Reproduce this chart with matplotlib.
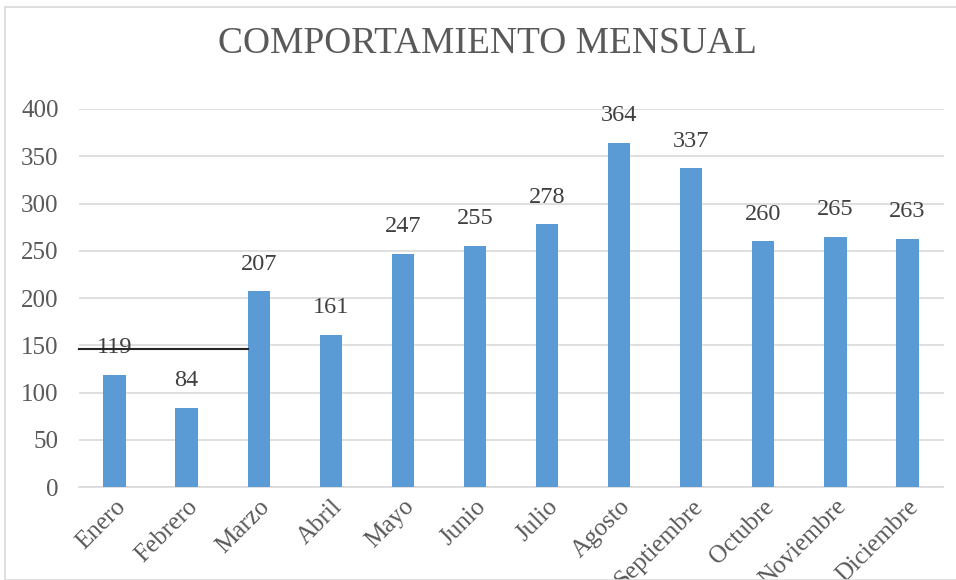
import matplotlib
matplotlib.use("Agg")
import matplotlib.pyplot as plt
from matplotlib.patches import Rectangle

months = ["Enero", "Febrero", "Marzo", "Abril", "Mayo", "Junio", "Julio",
          "Agosto", "Septiembre", "Octubre", "Noviembre", "Diciembre"]
values = [119, 84, 207, 161, 247, 255, 278, 364, 337, 260, 265, 263]
yticks = [0, 50, 100, 150, 200, 250, 300, 350, 400]
stray_line_y = 146

plt.rcParams['font.family'] = ['Liberation Serif', 'DejaVu Serif']

fig = plt.figure(figsize=(9.56, 5.8), dpi=100)
fig.patches.append(Rectangle((5/956, 0), 1.0, 1 - 7/580, transform=fig.transFigure,
                             fill=False, edgecolor='#D9D9D9', linewidth=1.2))
ax = fig.add_axes([78.5/956, 1 - 487.3/580, (943.5 - 78.5)/956, (487.3 - 108.9)/580])

x = list(range(len(months)))
bars = ax.bar(x, values, width=0.31, color='#5B9BD5', zorder=3)
for xi, v in zip(x, values):
    ax.annotate(str(v), (xi, v), xytext=(0, 12), textcoords='offset points',
                ha='center', va='bottom', fontsize=17.5, color='#404040', zorder=4)

ax.set_xlim(-0.5, len(months) - 0.5)
ax.set_ylim(0, 400)
ax.set_yticks(yticks)
ax.set_xticks(x)
ax.set_xticklabels(months, rotation=45, ha='right', rotation_mode='anchor')
ax.tick_params(axis='both', length=0, labelsize=18, colors='#595959')
ax.tick_params(axis='y', pad=14.4)
ax.tick_params(axis='x', pad=6)
ax.grid(axis='y', color='#D9D9D9', linewidth=1.2, zorder=0)
for s in ['top', 'right', 'left']:
    ax.spines[s].set_visible(False)
ax.spines['bottom'].set_color('#D9D9D9')
ax.spines['bottom'].set_linewidth(1.2)

ax.plot([-0.5, 1.85], [stray_line_y, stray_line_y], color='#262626', linewidth=1.5,
        zorder=5, clip_on=False)

fig.text(487/956, 1 - 53.3/580, "COMPORTAMIENTO MENSUAL", ha='center', va='baseline',
         fontsize=27, color='#595959')

fig.savefig("out.png", dpi=100)
